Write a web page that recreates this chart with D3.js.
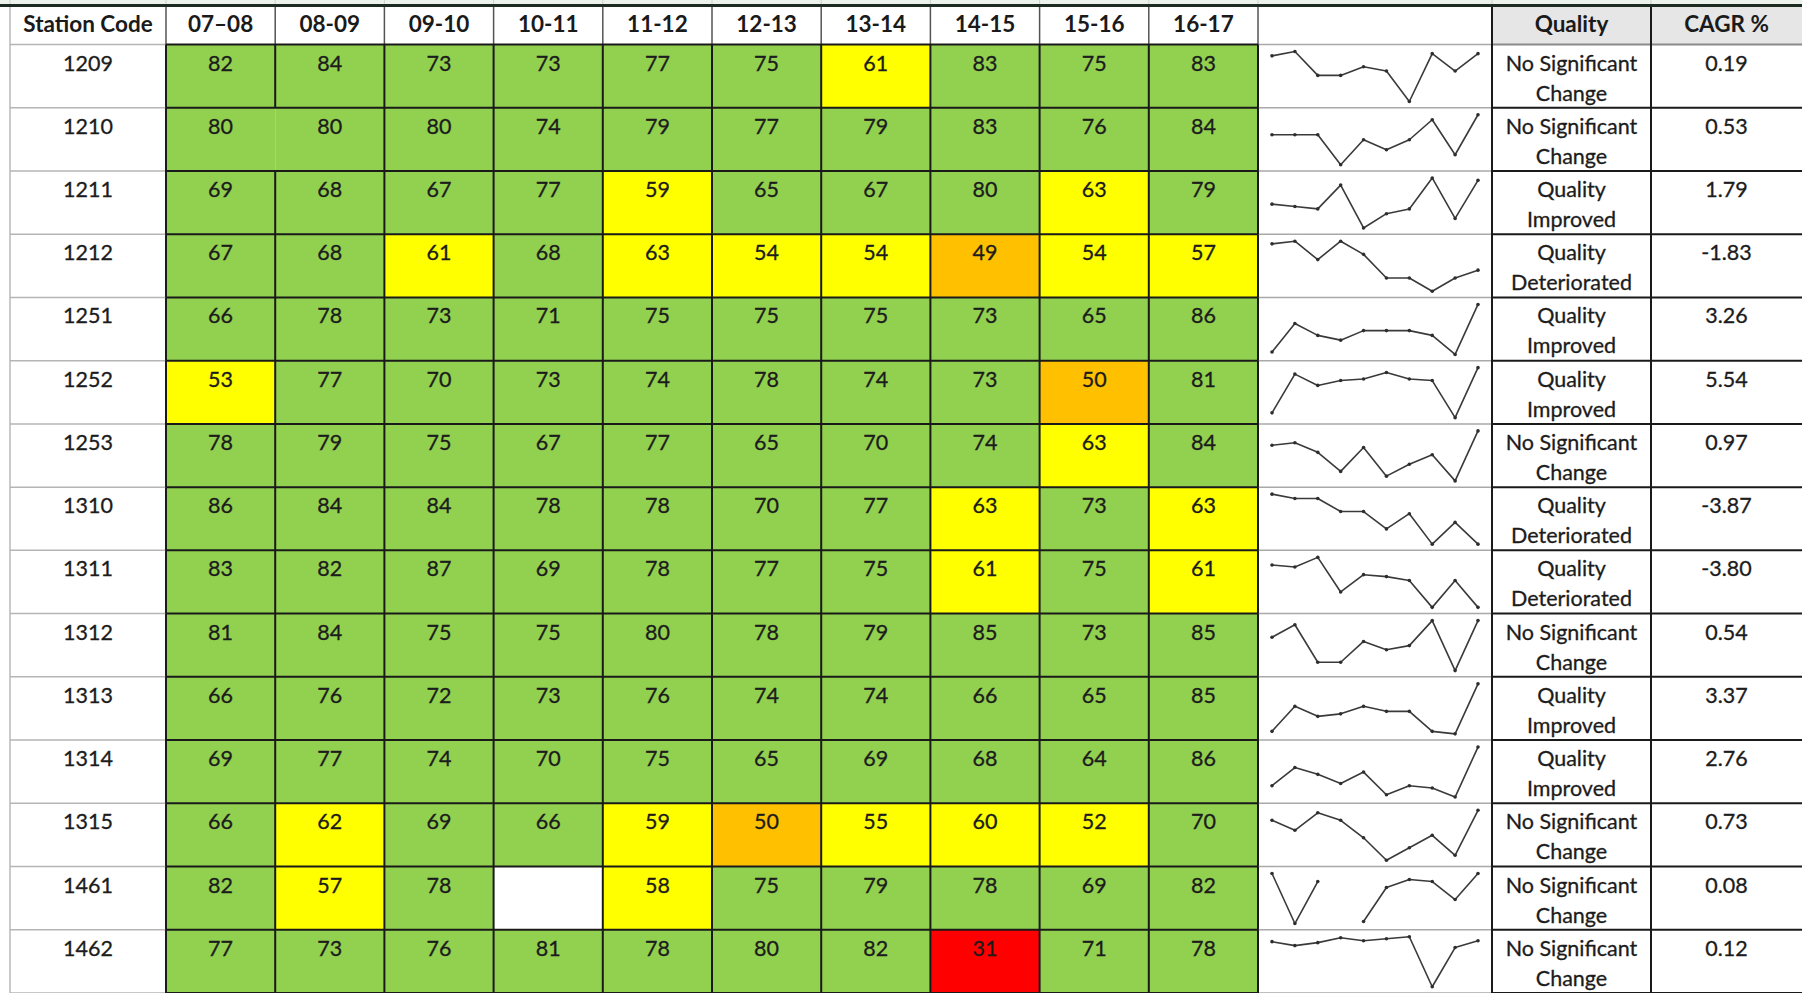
<!DOCTYPE html>
<html><head><meta charset="utf-8">
<script src="https://cdn.jsdelivr.net/npm/d3@7"></script>
<style>
html,body{margin:0;padding:0;background:#fff;}
svg{display:block;}
text{font-family:Lato,"Open Sans",sans-serif;}
</style></head>
<body>
<svg id="chart" width="1802" height="993"></svg>
<script>
// ---- data ----
const stations = ["1209","1210","1211","1212","1251","1252","1253","1310","1311","1312","1313","1314","1315","1461","1462"];
const years = ["07–08","08-09","09-10","10-11","11-12","12-13","13-14","14-15","15-16","16-17"];
const values = [
  [82,84,73,73,77,75,61,83,75,83],
  [80,80,80,74,79,77,79,83,76,84],
  [69,68,67,77,59,65,67,80,63,79],
  [67,68,61,68,63,54,54,49,54,57],
  [66,78,73,71,75,75,75,73,65,86],
  [53,77,70,73,74,78,74,73,50,81],
  [78,79,75,67,77,65,70,74,63,84],
  [86,84,84,78,78,70,77,63,73,63],
  [83,82,87,69,78,77,75,61,75,61],
  [81,84,75,75,80,78,79,85,73,85],
  [66,76,72,73,76,74,74,66,65,85],
  [69,77,74,70,75,65,69,68,64,86],
  [66,62,69,66,59,50,55,60,52,70],
  [82,57,78,null,58,75,79,78,69,82],
  [77,73,76,81,78,80,82,31,71,78]
];
const quality = [
  ["No Significant","Change"],["No Significant","Change"],["Quality","Improved"],["Quality","Deteriorated"],
  ["Quality","Improved"],["Quality","Improved"],["No Significant","Change"],["Quality","Deteriorated"],
  ["Quality","Deteriorated"],["No Significant","Change"],["Quality","Improved"],["Quality","Improved"],
  ["No Significant","Change"],["No Significant","Change"],["No Significant","Change"]
];
const cagr = ["0.19","0.53","1.79","-1.83","3.26","5.54","0.97","-3.87","-3.80","0.54","3.37","2.76","0.73","0.08","0.12"];
const headers = {station:"Station Code", spark:"", quality:"Quality", cagr:"CAGR %"};

// ---- layout ----
const W = 1802, H = 993;
const L = {stationL:10, dataL:166, dataR:1258, sparkR:1492, qualR:1651, cagrR:1802};
const headerTop = 6, headerBottom = 44.5;
const svg = d3.select("#chart");

const x = d3.scaleBand().domain(years).range([L.dataL, L.dataR]);
const y = d3.scaleBand().domain(stations).range([headerBottom, H]);
const color = d3.scaleThreshold().domain([45, 51, 64]).range(["#ff0000","#ffc000","#ffff00","#92d050"]);
const rh = y.bandwidth();
const ink = "#1c1c1c";

// top strip (spreadsheet chrome)
svg.append("rect").attr("x",0).attr("y",0).attr("width",W).attr("height",headerTop).attr("fill","#edf2ed");
const colEdges = [L.stationL, ...years.map(d=>x(d)), L.dataR, L.sparkR, L.qualR];
svg.selectAll(".topTick").data(colEdges).join("line")
  .attr("x1",d=>d).attr("x2",d=>d).attr("y1",0).attr("y2",headerTop).attr("stroke","#c9d6c9").attr("stroke-width",1);

// header backgrounds
svg.append("rect").attr("x",L.sparkR).attr("y",headerTop).attr("width",L.cagrR-L.sparkR).attr("height",headerBottom-headerTop).attr("fill","#e6e6e6");

// cells
const rows = stations.map((s,i)=>({s, i, vals: values[i]}));
const cellData = [];
rows.forEach(r => r.vals.forEach((v,j)=>cellData.push({s:r.s, yr:years[j], v})));
svg.selectAll(".cell").data(cellData).join("rect")
  .attr("x",d=>x(d.yr)).attr("y",d=>y(d.s)).attr("width",x.bandwidth()).attr("height",rh)
  .attr("fill",d=>d.v==null?"#ffffff":color(d.v));

// grid: station column
svg.append("line").attr("x1",L.stationL).attr("x2",L.stationL).attr("y1",headerTop).attr("y2",H).attr("stroke","#b8b8b8").attr("stroke-width",1.5);
const rowEdges = [headerBottom, ...stations.map(s=>y(s)+rh)];
svg.selectAll(".stLine").data(rowEdges).join("line")
  .attr("x1",L.stationL).attr("x2",L.dataL).attr("y1",d=>d).attr("y2",d=>d).attr("stroke","#b5b5b5").attr("stroke-width",1.5);
// spark column row lines
svg.selectAll(".spLine").data(rowEdges).join("line")
  .attr("x1",L.dataR).attr("x2",L.sparkR).attr("y1",d=>d).attr("y2",d=>d).attr("stroke","#a9a9a9").attr("stroke-width",1.5);
// quality/cagr row lines
svg.selectAll(".qLine").data(rowEdges).join("line")
  .attr("x1",L.sparkR).attr("x2",L.cagrR).attr("y1",d=>d).attr("y2",d=>d).attr("stroke",(d,i)=>i==0?"#8a8a8a":"#1a1a1a").attr("stroke-width",2);
// header vertical separators
svg.selectAll(".hv").data([...years.map(d=>x(d)), L.dataR]).join("line")
  .attr("x1",d=>d).attr("x2",d=>d).attr("y1",headerTop).attr("y2",headerBottom).attr("stroke","#555").attr("stroke-width",1.5);
// data area horizontal lines
svg.selectAll(".dh").data(rowEdges).join("line")
  .attr("x1",L.dataL).attr("x2",L.dataR).attr("y1",d=>d).attr("y2",d=>d).attr("stroke","#1a1a1a").attr("stroke-width",2);
// data area vertical lines per row (one merged pair in row 1210)
const vEdges = [...years.map(d=>x(d)), L.dataR];
const vSeg = [];
stations.forEach((s,i)=>vEdges.forEach((e,k)=>{ if(!(s==="1210" && k===1)) vSeg.push({s,e}); }));
svg.selectAll(".dv").data(vSeg).join("line")
  .attr("x1",d=>d.e).attr("x2",d=>d.e).attr("y1",d=>y(d.s)).attr("y2",d=>y(d.s)+rh).attr("stroke","#1a1a1a").attr("stroke-width",2);
// right-side verticals
[L.sparkR, L.qualR].forEach(xx=>{
  svg.append("line").attr("x1",xx).attr("x2",xx).attr("y1",headerTop).attr("y2",H).attr("stroke","#1a1a1a").attr("stroke-width",2);
});
// top thick line
svg.append("line").attr("x1",0).attr("x2",W).attr("y1",headerTop-0.5).attr("y2",headerTop-0.5).attr("stroke","#1d2c22").attr("stroke-width",3);

// header text
const hY = 32;
const hText = (t,cx)=>svg.append("text").attr("x",cx).attr("y",hY).attr("text-anchor","middle")
  .attr("font-size",22.5).attr("font-weight",700).attr("fill","#1a1a1a").text(t);
hText(headers.station,(L.stationL+L.dataL)/2);
years.forEach(yr=>hText(yr, x(yr)+x.bandwidth()/2));
hText(headers.quality,(L.sparkR+L.qualR)/2);
hText(headers.cagr,(L.qualR+L.cagrR)/2);

const body = sel => sel.attr("font-size",21.5).attr("fill",ink).attr("stroke",ink).attr("stroke-width",0.3);
// cell text
body(svg.selectAll(".ct").data(cellData.filter(d=>d.v!=null)).join("text")
  .attr("x",d=>x(d.yr)+x.bandwidth()/2).attr("y",d=>y(d.s)+26).attr("text-anchor","middle").text(d=>d.v));
// station text
body(svg.selectAll(".st").data(stations).join("text")
  .attr("x",(L.stationL+L.dataL)/2).attr("y",d=>y(d)+26).attr("text-anchor","middle").text(d=>d));
// quality
stations.forEach((s,i)=>{
  const cx=(L.sparkR+L.qualR)/2;
  body(svg.append("text").attr("x",cx).attr("y",y(s)+26).attr("text-anchor","middle").text(quality[i][0]));
  body(svg.append("text").attr("x",cx).attr("y",y(s)+56).attr("text-anchor","middle").text(quality[i][1]));
});
// cagr
body(svg.selectAll(".cg").data(cagr).join("text")
  .attr("x",(L.qualR+L.cagrR)/2).attr("y",(d,i)=>y(stations[i])+26).attr("text-anchor","middle").text(d=>d));

// sparklines
const sx = d3.scaleLinear().domain([0, years.length-1]).range([1272, 1478]);
rows.forEach(r=>{
  const top = y(r.s);
  const sy = d3.scaleLinear().domain(d3.extent(r.vals.filter(v=>v!=null))).range([top+57, top+7]);
  const line = d3.line().defined(d=>d!=null).x((d,i)=>sx(i)).y(d=>sy(d));
  svg.append("path").datum(r.vals).attr("d",line).attr("fill","none").attr("stroke","#3a3a3a").attr("stroke-width",1.6).attr("stroke-linejoin","round");
  svg.append("g").selectAll("circle").data(r.vals.map((v,i)=>({v,i})).filter(d=>d.v!=null)).join("circle")
    .attr("cx",d=>sx(d.i)).attr("cy",d=>sy(d.v)).attr("r",1.8).attr("fill","#2e2e2e");
});
</script>
</body></html>
